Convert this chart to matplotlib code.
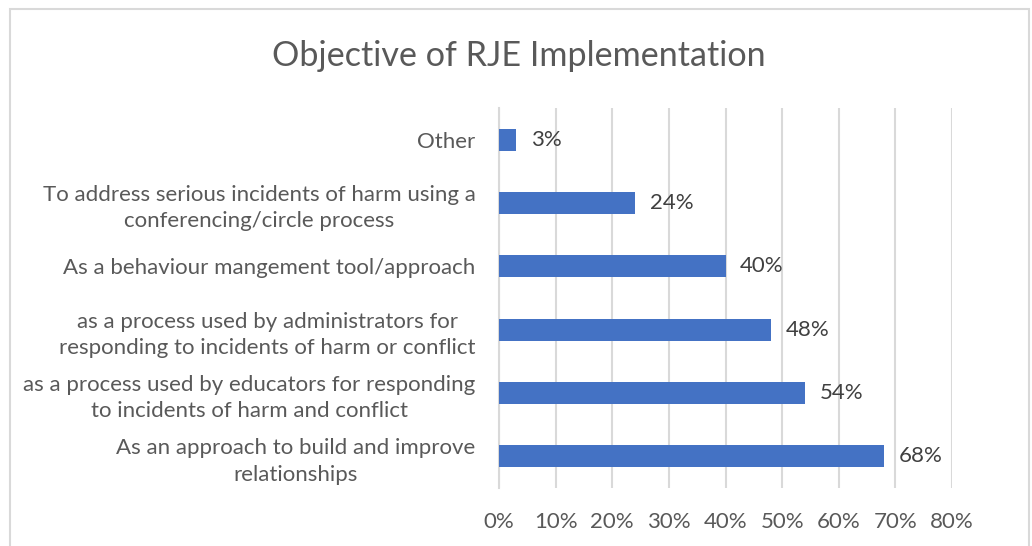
import matplotlib
matplotlib.use("Agg")
import matplotlib.pyplot as plt
from matplotlib.patches import Rectangle
from matplotlib.ticker import FuncFormatter, MultipleLocator

# Categories listed from the top bar to the bottom bar
categories = [
    "Other",
    "To address serious incidents of harm using a\nconferencing/circle process",
    "As a behaviour mangement tool/approach",
    "as a process used by administrators for\nresponding to incidents of harm or conflict",
    "as a process used by educators for responding\nto incidents of harm and conflict",
    "As an approach to build and improve\nrelationships",
]
shares = [0.03, 0.24, 0.40, 0.48, 0.54, 0.68]
title = "Objective of RJE Implementation"

plt.rcParams["font.family"] = ["Lato", "DejaVu Sans"]

W, H, DPI = 1032, 546, 100
fig = plt.figure(figsize=(W / DPI, H / DPI), dpi=DPI)
fig.patch.set_facecolor("white")

# Plot area in pixel coordinates
left, right, top, bottom = 499, 952, 108, 488
ax = fig.add_axes([left / W, 1 - bottom / H, (right - left) / W, (bottom - top) / H])

# Chart frame
fig.add_artist(Rectangle((10 / W, -0.1), (1029 - 10) / W, (H - 9) / H + 0.1,
                         transform=fig.transFigure, fill=False,
                         edgecolor="#d9d9d9", linewidth=1.5))

grey_text = "#595959"
bar_color = "#4472C4"

y = list(range(len(categories)))
ax.barh(y, shares, height=0.35, color=bar_color, zorder=3)
ax.set_ylim(len(categories) - 0.5, -0.5)
ax.set_xlim(0, 0.8)

ax.xaxis.set_major_locator(MultipleLocator(0.1))
ax.xaxis.set_major_formatter(FuncFormatter(lambda v, p: f"{v * 100:.0f}%"))
ax.grid(axis="x", color="#d9d9d9", linewidth=1.5, zorder=0)
ax.set_axisbelow(True)

for s in ["top", "right", "bottom"]:
    ax.spines[s].set_visible(False)
ax.spines["left"].set_color("#d9d9d9")
ax.spines["left"].set_linewidth(1.5)

ax.tick_params(axis="both", length=0, labelsize=16, colors=grey_text)
ax.tick_params(axis="x", pad=17)
ax.tick_params(axis="y", pad=17)
ax.set_yticks(y)
ax.set_yticklabels(categories, multialignment="center", linespacing=1.4)

for yi, v in zip(y, shares):
    ax.text(v + 0.026, yi, f"{v * 100:.0f}%", va="center", ha="left",
            fontsize=16, color="#404040")

fig.text(519 / W, 1 - 56 / H, title, ha="center", va="center",
         fontsize=24.6, color=grey_text)

fig.savefig("out.png", dpi=DPI, facecolor="white")
